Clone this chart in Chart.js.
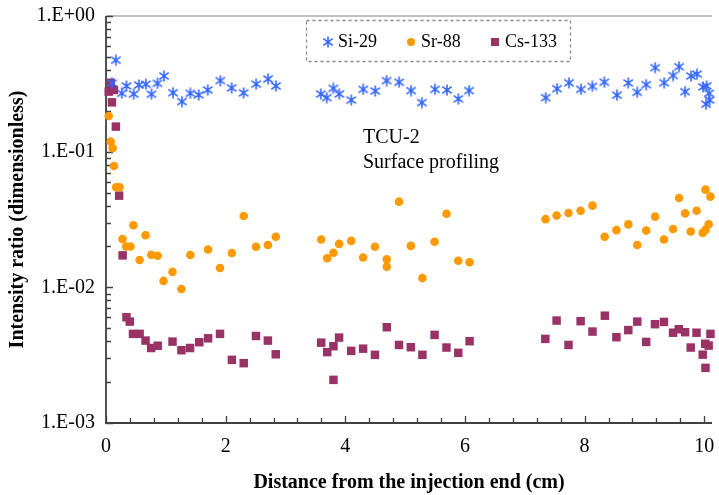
<!DOCTYPE html>
<html>
<head>
<meta charset="utf-8">
<script src="https://cdn.jsdelivr.net/npm/chart.js@4"></script>
<style>
  html, body { margin: 0; padding: 0; background: #fff; }
</style>
</head>
<body>
<canvas id="chart" width="719" height="495"></canvas>
<script>
// Si-29 intensity ratio vs distance (cm)
const siX = [0.10, 0.165, 0.264, 0.342, 0.463, 0.55, 0.666, 0.76, 0.86, 0.97, 1.12, 1.27, 1.41, 1.55, 1.70, 1.91, 2.10, 2.30, 2.51, 2.71, 2.84,
  3.59, 3.69, 3.80, 3.90, 4.10, 4.30, 4.50, 4.69, 4.90, 5.10, 5.28, 5.50, 5.70, 5.89, 6.07,
  7.35, 7.54, 7.74, 7.94, 8.13, 8.33, 8.54, 8.73, 8.88, 9.03, 9.18, 9.33, 9.48, 9.58, 9.68, 9.78, 9.88, 9.98, 10.04, 10.03, 10.08, 10.09];
const siY = [0.320, 0.472, 0.269, 0.305, 0.266, 0.310, 0.314, 0.265, 0.319, 0.361, 0.272, 0.234, 0.269, 0.262, 0.285, 0.334, 0.295, 0.271, 0.315, 0.343, 0.305,
  0.266, 0.250, 0.293, 0.266, 0.240, 0.288, 0.280, 0.334, 0.325, 0.282, 0.230, 0.288, 0.285, 0.245, 0.282,
  0.250, 0.291, 0.322, 0.288, 0.303, 0.325, 0.261, 0.321, 0.274, 0.312, 0.416, 0.322, 0.364, 0.423, 0.277, 0.361, 0.373, 0.300, 0.305, 0.224, 0.269, 0.240];

// Sr-88
const srX = [0.045, 0.078, 0.111, 0.132, 0.170, 0.226, 0.276, 0.336, 0.408, 0.458, 0.562, 0.661, 0.757, 0.863, 0.962, 1.112, 1.26, 1.41, 1.706, 1.906, 2.104, 2.302, 2.507, 2.706, 2.838,
  3.598, 3.698, 3.802, 3.896, 4.099, 4.298, 4.496, 4.694, 4.694, 4.898, 5.096, 5.289, 5.493, 5.691, 5.889, 6.078,
  7.347, 7.532, 7.731, 7.934, 8.132, 8.336, 8.532, 8.732, 8.881, 9.030, 9.179, 9.327, 9.479, 9.579, 9.681, 9.774, 9.873, 9.975, 10.021, 10.021, 10.074, 10.104];
const srY = [0.183, 0.1185, 0.106, 0.0785, 0.0547, 0.0547, 0.0227, 0.0200, 0.0200, 0.0287, 0.0159, 0.0242, 0.0174, 0.0171, 0.01115, 0.0130, 0.00973, 0.0173, 0.0190, 0.0139, 0.0179, 0.0336, 0.0199, 0.0205, 0.0236,
  0.0225, 0.0164, 0.0180, 0.0209, 0.0220, 0.0166, 0.0199, 0.0161, 0.0142, 0.0428, 0.0202, 0.0117, 0.0217, 0.0349, 0.0157, 0.0153,
  0.0318, 0.0338, 0.0353, 0.0367, 0.0400, 0.0236, 0.0264, 0.0291, 0.0205, 0.0262, 0.0332, 0.0225, 0.0269, 0.0456, 0.0351, 0.0258, 0.0367, 0.0252, 0.0525, 0.0265, 0.0292, 0.0466];

// Cs-133
const csX = [0.045, 0.078, 0.132, 0.099, 0.165, 0.220, 0.278, 0.342, 0.397, 0.451, 0.562, 0.661, 0.755, 0.864, 1.112, 1.261, 1.405, 1.559, 1.707, 1.906, 2.104, 2.302, 2.507, 2.706, 2.838,
  3.598, 3.698, 3.802, 3.896, 3.802, 4.099, 4.298, 4.496, 4.694, 4.898, 5.096, 5.289, 5.493, 5.691, 5.889, 6.078,
  7.344, 7.532, 7.731, 7.934, 8.132, 8.339, 8.532, 8.731, 8.881, 9.030, 9.177, 9.327, 9.479, 9.575, 9.681, 9.774, 9.871, 9.975, 10.021, 10.017, 10.074, 10.104];
const csY = [0.277, 0.322, 0.285, 0.231, 0.153, 0.0474, 0.0172, 0.00602, 0.00559, 0.00454, 0.00454, 0.00405, 0.00357, 0.00371, 0.00398, 0.00344, 0.00357, 0.00394, 0.00421, 0.00454, 0.00292, 0.00276, 0.00438, 0.00405, 0.00321,
  0.00391, 0.00333, 0.00368, 0.00426, 0.00208, 0.00340, 0.00353, 0.00318, 0.00508, 0.00376, 0.00362, 0.00318, 0.00446, 0.00360, 0.00329, 0.00401,
  0.00417, 0.00569, 0.00376, 0.00563, 0.00472, 0.00618, 0.00429, 0.00484, 0.00559, 0.00396, 0.00535, 0.00556, 0.00463, 0.00491, 0.00467, 0.00360, 0.00463, 0.00319, 0.00255, 0.00384, 0.00372, 0.00454];

const seriesNames = ['Si-29', 'Sr-88', 'Cs-133'];
const yTickValues = [0.001, 0.01, 0.1, 1];
const xTickValues = [0, 2, 4, 6, 8, 10];
const annotationLines = ['TCU-2', 'Surface profiling'];

const BLUE = 'rgb(51,102,255)';
const ORANGE = 'rgb(255,153,0)';
const MAROON = 'rgb(153,51,102)';
const SERIF = '"Liberation Serif", "Times New Roman", serif';

// excel-style star: an X with a vertical stroke
function starMarker(color, size) {
  const c = document.createElement('canvas');
  c.width = size; c.height = size;
  const g = c.getContext('2d');
  g.strokeStyle = color;
  g.lineWidth = 1.6;
  const m = size / 2, r = size / 2 - 0.5;
  g.beginPath();
  g.moveTo(m - r * 0.85, m - r * 0.6); g.lineTo(m + r * 0.85, m + r * 0.6);
  g.moveTo(m + r * 0.85, m - r * 0.6); g.lineTo(m - r * 0.85, m + r * 0.6);
  g.moveTo(m, m - r); g.lineTo(m, m + r);
  g.stroke();
  return c;
}
const siMarker = starMarker(BLUE, 12);

const pts = (xs, ys) => xs.map((x, i) => ({ x, y: ys[i] }));

function expLabel(v) {
  const e = Math.round(Math.log10(v));
  const s = e >= 0 ? '+' : '-';
  return '1.E' + s + String(Math.abs(e)).padStart(2, '0');
}

// axis lines with inward ticks, plus top border
const axesPlugin = {
  id: 'axesPlugin',
  beforeDatasetsDraw(chart) {
    const { ctx, chartArea: a, scales: { x, y } } = chart;
    ctx.save();
    ctx.strokeStyle = '#aaaaaa';
    ctx.lineWidth = 1.5;
    ctx.beginPath();
    ctx.moveTo(a.left, a.top); ctx.lineTo(a.right, a.top);
    ctx.stroke();

    ctx.strokeStyle = '#404040';
    ctx.lineWidth = 1.3;
    ctx.beginPath();
    // y ticks (log, 2..9 minors)
    for (let e = -3; e <= 0; e++) {
      const py = Math.round(y.getPixelForValue(Math.pow(10, e))) + 0.5;
      ctx.moveTo(a.left, py); ctx.lineTo(a.left + 7, py);
      if (e < 0) {
        for (let k = 2; k <= 9; k++) {
          const my = Math.round(y.getPixelForValue(k * Math.pow(10, e))) + 0.5;
          ctx.moveTo(a.left, my); ctx.lineTo(a.left + 5, my);
        }
      }
    }
    // x ticks every 0.4, majors every 2
    for (let i = 0; i <= 25; i++) {
      const v = i * 0.4;
      const px = Math.round(x.getPixelForValue(v)) + 0.5;
      const major = i % 5 === 0;
      ctx.moveTo(px, a.bottom); ctx.lineTo(px, a.bottom - (major ? 7 : 5));
    }
    ctx.stroke();

    ctx.lineWidth = 1.8;
    ctx.beginPath();
    ctx.moveTo(a.left, a.top); ctx.lineTo(a.left, a.bottom); ctx.lineTo(a.right, a.bottom);
    ctx.stroke();
    ctx.restore();
  },
  afterDatasetsDraw(chart) {
    const { ctx } = chart;
    ctx.save();
    // text label inside the plot
    ctx.fillStyle = '#000';
    ctx.font = '20px ' + SERIF;
    ctx.textBaseline = 'middle';
    ctx.fillText(annotationLines[0], 363, 138);
    ctx.fillText(annotationLines[1], 363, 163);

    // legend box
    ctx.strokeStyle = '#888';
    ctx.lineWidth = 1.3;
    ctx.setLineDash([3, 3]);
    ctx.strokeRect(306.5, 20.5, 264, 41);
    ctx.setLineDash([]);
    ctx.font = '18px ' + SERIF;
    const ly = 42;
    ctx.drawImage(siMarker, 328 - 6, ly - 6);
    ctx.fillText(seriesNames[0], 338, ly);
    ctx.fillStyle = ORANGE;
    ctx.beginPath(); ctx.arc(411, ly, 4, 0, Math.PI * 2); ctx.fill();
    ctx.fillStyle = '#000';
    ctx.fillText(seriesNames[1], 421, ly);
    ctx.fillStyle = MAROON;
    ctx.fillRect(491, ly - 4, 8, 8);
    ctx.fillStyle = '#000';
    ctx.fillText(seriesNames[2], 505, ly);
    ctx.restore();
  }
};

new Chart(document.getElementById('chart'), {
  type: 'scatter',
  data: {
    datasets: [
      {
        label: seriesNames[0],
        data: pts(siX, siY),
        pointStyle: siMarker,
        pointRadius: 6,
        clip: false
      },
      {
        label: seriesNames[1],
        data: pts(srX, srY),
        pointStyle: 'circle',
        pointRadius: 4.3,
        backgroundColor: ORANGE,
        borderWidth: 0,
        clip: false
      },
      {
        label: seriesNames[2],
        data: pts(csX, csY),
        pointStyle: 'rect',
        pointRadius: 6,
        backgroundColor: MAROON,
        borderWidth: 0,
        clip: false
      }
    ]
  },
  options: {
    responsive: false,
    animation: false,
    layout: { padding: { top: 16, right: 0, bottom: 0, left: 0 } },
    plugins: {
      legend: { display: false },
      tooltip: { enabled: false }
    },
    scales: {
      x: {
        type: 'linear',
        min: 0,
        max: 10.13,
        grid: { display: false, drawTicks: false },
        border: { display: false },
        afterBuildTicks: s => { s.ticks = xTickValues.map(v => ({ value: v })); },
        afterFit: s => { s.height = 72; s.paddingLeft = 0; s.paddingRight = 0; },
        ticks: {
          padding: 12,
          color: '#000',
          font: { family: SERIF, size: 20 },
          maxRotation: 0
        },
        title: {
          display: true,
          text: 'Distance from the injection end (cm)',
          color: '#000',
          font: { family: SERIF, size: 20, weight: 'bold' },
          padding: { top: 0, bottom: 0 }
        }
      },
      y: {
        type: 'logarithmic',
        min: 0.001,
        max: 1,
        grid: { display: false, drawTicks: false },
        border: { display: false },
        afterBuildTicks: s => { s.ticks = yTickValues.map(v => ({ value: v })); },
        afterFit: s => { s.width = 106; s.paddingTop = 0; s.paddingBottom = 0; },
        ticks: {
          padding: 11,
          color: '#000',
          font: { family: SERIF, size: 20 },
          callback: v => expLabel(v)
        },
        title: {
          display: true,
          text: 'Intensity ratio (dimensionless)',
          color: '#000',
          font: { family: SERIF, size: 20, weight: 'bold' },
          padding: { top: 6, bottom: 0 }
        }
      }
    }
  },
  plugins: [axesPlugin]
});
</script>
</body>
</html>
